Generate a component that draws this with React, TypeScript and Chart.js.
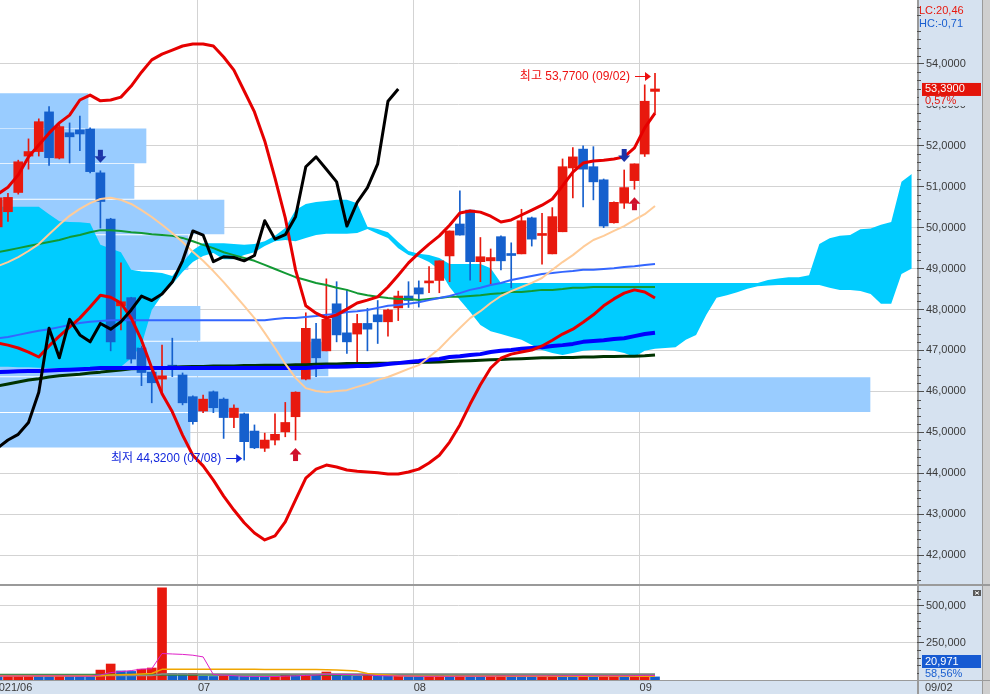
import React, { useEffect, useRef } from "react";
import { Chart, registerables } from "chart.js";

Chart.register(...registerables);

const FONT = '"Liberation Sans", "Noto Sans CJK KR", Arial, sans-serif';
const YEAR = "2021";

// ---------------- data ----------------
const dates = [
  "06/03","06/04","06/07","06/08","06/09","06/10","06/11","06/14","06/15","06/16",
  "06/17","06/18","06/21","06/22","06/23","06/24","06/25","06/28","06/29","06/30",
  "07/01","07/02","07/06","07/07","07/08","07/09","07/12","07/13","07/14","07/15",
  "07/16","07/19","07/20","07/21","07/22","07/23","07/26","07/27","07/28","07/29",
  "07/30","08/02","08/03","08/04","08/05","08/06","08/09","08/10","08/11","08/12",
  "08/13","08/16","08/17","08/18","08/19","08/20","08/23","08/24","08/25","08/26",
  "08/27","08/30","08/31","09/01","09/02",
];

const openP = [
  50.02, 50.39, 50.86, 51.75, 51.86, 52.83, 51.70, 52.32, 52.39, 52.41,
  51.34, 50.21, 48.09, 48.29, 47.06, 46.47, 46.30, 46.64, 46.40, 45.87,
  45.52, 45.99, 45.81, 45.36, 45.45, 45.03, 44.61, 44.81, 45.01, 45.38,
  46.30, 47.28, 46.99, 48.14, 47.43, 47.40, 47.66, 47.87, 47.70, 48.04,
  48.33, 48.53, 48.65, 48.71, 49.31, 50.09, 50.43, 49.17, 49.19, 49.78,
  49.35, 49.36, 50.24, 49.81, 49.36, 49.90, 51.46, 51.92, 51.49, 51.17,
  50.12, 50.60, 51.15, 51.80, 53.33,
];
const highP = [
  50.80, 50.84, 51.65, 52.17, 52.66, 52.96, 52.51, 52.56, 52.73, 52.44,
  51.39, 50.23, 49.14, 48.30, 47.11, 46.50, 47.13, 47.30, 46.45, 45.89,
  45.91, 46.01, 45.84, 45.67, 45.47, 45.18, 44.98, 45.45, 45.73, 45.99,
  47.92, 47.66, 48.75, 48.68, 48.48, 47.88, 48.03, 48.22, 48.01, 48.45,
  48.68, 48.70, 49.05, 49.19, 49.92, 50.90, 50.43, 49.76, 49.48, 49.80,
  49.63, 50.45, 50.26, 50.35, 50.49, 51.68, 51.96, 52.00, 51.98, 51.19,
  50.63, 51.41, 51.56, 53.49, 53.77,
];
const lowP = [
  49.94, 50.15, 50.82, 51.43, 51.75, 51.52, 51.68, 51.58, 51.88, 51.34,
  49.99, 46.99, 47.50, 46.69, 46.14, 45.72, 45.96, 46.36, 45.67, 45.20,
  45.48, 45.48, 44.85, 45.11, 44.32, 44.60, 44.53, 44.69, 44.89, 44.81,
  46.28, 46.36, 46.99, 47.21, 46.93, 46.70, 46.99, 47.17, 47.35, 47.73,
  48.05, 48.06, 48.41, 48.41, 48.68, 49.82, 48.72, 48.68, 48.60, 48.97,
  48.53, 49.36, 49.55, 49.11, 49.36, 49.90, 50.73, 50.51, 50.68, 50.00,
  50.11, 50.47, 50.94, 51.74, 52.80,
];
const closeP = [
  50.73, 50.74, 51.61, 51.86, 52.59, 51.71, 52.47, 52.22, 52.29, 51.37,
  50.64, 47.21, 48.19, 46.79, 46.46, 46.21, 46.38, 46.54, 45.72, 45.26,
  45.81, 45.60, 45.36, 45.59, 44.77, 44.62, 44.81, 44.95, 45.24, 45.98,
  47.54, 46.82, 47.76, 47.38, 47.21, 47.66, 47.52, 47.70, 47.99, 48.33,
  48.22, 48.38, 48.67, 49.19, 49.92, 49.82, 49.17, 49.29, 49.27, 49.19,
  49.32, 50.17, 49.72, 49.83, 50.27, 51.49, 51.73, 51.43, 51.12, 50.04,
  50.62, 50.98, 51.56, 53.09, 53.39,
];

const bbUpper = [
  50.82, 50.99, 51.29, 51.73, 52.02, 52.31, 52.56, 52.75, 53.12, 53.24,
  53.10, 53.12, 53.19, 53.46, 53.80, 54.10, 54.24, 54.34, 54.44, 54.49,
  54.49, 54.44, 54.17, 53.85, 53.34, 52.83, 52.12, 51.21, 50.24, 48.97,
  48.09, 47.91, 47.79, 47.87, 48.01, 48.16, 48.23, 48.31, 48.55, 48.84,
  49.14, 49.38, 49.60, 49.80, 50.06, 50.36, 50.41, 50.38, 50.28, 50.14,
  50.19, 50.31, 50.43, 50.55, 50.70, 51.02, 51.36, 51.58, 51.63, 51.65,
  51.68, 51.73, 51.95, 52.44, 52.80,
];
const bbLower = [
  47.18, 47.13, 47.06, 46.96, 46.84, 47.11, 47.35, 47.57, 47.79, 48.06,
  48.35, 48.30, 48.16, 47.79, 47.25, 46.57, 45.94, 45.50, 44.93, 44.44,
  44.18, 43.83, 43.44, 43.10, 42.79, 42.54, 42.37, 42.47, 42.81, 43.35,
  43.88, 44.10, 44.20, 44.15, 44.08, 44.05, 44.03, 44.01, 43.98, 43.98,
  44.03, 44.10, 44.25, 44.44, 44.76, 45.18, 45.69, 46.16, 46.57, 46.81,
  46.91, 46.96, 47.01, 47.11, 47.25, 47.40, 47.52, 47.69, 47.87, 48.09,
  48.26, 48.40, 48.48, 48.43, 48.28,
];
const bbMid = [
  49.06, 49.16, 49.28, 49.43, 49.60, 49.84, 50.07, 50.29, 50.46, 50.60,
  50.70, 50.73, 50.68, 50.58, 50.43, 50.26, 50.07, 49.87, 49.65, 49.41,
  49.19, 48.94, 48.67, 48.38, 48.09, 47.79, 47.43, 47.06, 46.67, 46.33,
  46.08, 46.01, 45.98, 46.01, 46.03, 46.11, 46.18, 46.28, 46.35, 46.45,
  46.55, 46.64, 46.84, 47.04, 47.30, 47.55, 47.79, 47.96, 48.16, 48.33,
  48.45, 48.55, 48.65, 48.77, 48.97, 49.16, 49.33, 49.53, 49.70, 49.80,
  49.92, 50.04, 50.19, 50.33, 50.53,
];
const maGreen = [
  49.40, 49.45, 49.50, 49.55, 49.60, 49.65, 49.70, 49.77, 49.82, 49.89,
  49.94, 49.94, 49.92, 49.89, 49.87, 49.84, 49.82, 49.80, 49.75, 49.67,
  49.58, 49.50, 49.40, 49.33, 49.26, 49.19, 49.09, 48.99, 48.89, 48.79,
  48.72, 48.65, 48.60, 48.53, 48.48, 48.40, 48.35, 48.31, 48.28, 48.26,
  48.26, 48.23, 48.26, 48.28, 48.31, 48.31, 48.33, 48.35, 48.38, 48.40,
  48.43, 48.43, 48.45, 48.48, 48.48, 48.50, 48.53, 48.53, 48.55, 48.55,
  48.55, 48.55, 48.55, 48.55, 48.55,
];
const maBlue = [
  47.30, 47.33, 47.38, 47.43, 47.48, 47.52, 47.57, 47.62, 47.67, 47.70,
  47.72, 47.74, 47.74, 47.74, 47.74, 47.74, 47.74, 47.74, 47.74, 47.74,
  47.74, 47.74, 47.74, 47.74, 47.74, 47.74, 47.74, 47.77, 47.79, 47.79,
  47.82, 47.84, 47.87, 47.89, 47.94, 47.96, 47.99, 48.04, 48.09, 48.11,
  48.14, 48.18, 48.23, 48.28, 48.33, 48.40, 48.48, 48.53, 48.60, 48.65,
  48.72, 48.77, 48.82, 48.87, 48.89, 48.92, 48.94, 48.97, 48.97, 48.99,
  49.01, 49.04, 49.06, 49.09, 49.11,
];
const maDarkBlue = [
  46.47, 46.48, 46.49, 46.50, 46.50, 46.51, 46.52, 46.53, 46.54, 46.55,
  46.57, 46.57, 46.57, 46.57, 46.57, 46.57, 46.57, 46.57, 46.57, 46.57,
  46.57, 46.57, 46.57, 46.57, 46.57, 46.57, 46.57, 46.57, 46.57, 46.57,
  46.57, 46.59, 46.60, 46.60, 46.61, 46.62, 46.62, 46.64, 46.67, 46.69,
  46.72, 46.74, 46.77, 46.79, 46.84, 46.86, 46.89, 46.91, 46.96, 46.99,
  47.01, 47.04, 47.06, 47.08, 47.11, 47.13, 47.16, 47.21, 47.23, 47.25,
  47.28, 47.30, 47.35, 47.40, 47.43,
];
const maDarkGreen = [
  46.13, 46.18, 46.23, 46.28, 46.31, 46.35, 46.38, 46.40, 46.42, 46.45,
  46.47, 46.50, 46.52, 46.55, 46.56, 46.57, 46.58, 46.59, 46.60, 46.61,
  46.61, 46.62, 46.62, 46.62, 46.63, 46.63, 46.64, 46.64, 46.64, 46.65,
  46.65, 46.66, 46.67, 46.67, 46.68, 46.68, 46.68, 46.69, 46.69, 46.70,
  46.70, 46.71, 46.71, 46.72, 46.73, 46.74, 46.75, 46.76, 46.77, 46.78,
  46.79, 46.80, 46.81, 46.82, 46.82, 46.83, 46.83, 46.84, 46.84, 46.85,
  46.85, 46.86, 46.86, 46.87, 46.89,
];
// lagging span (close shifted back 25 sessions)
const chikou = [
  44.62, 44.81, 44.95, 45.24, 45.98, 47.54, 46.82, 47.76, 47.38, 47.21,
  47.66, 47.52, 47.70, 47.99, 48.33, 48.22, 48.38, 48.67, 49.19, 49.92,
  49.82, 49.17, 49.29, 49.27, 49.19, 49.32, 50.17, 49.72, 49.83, 50.27,
  51.49, 51.73, 51.43, 51.12, 50.04, 50.62, 50.98, 51.56, 53.09, 53.39,
];
// ichimoku leading spans (run 25 sessions ahead)
const spanA = [
  50.51, 50.51, 50.51, 50.51, 50.51, 50.33, 50.16, 50.14, 50.13, 50.11,
  49.58, 49.49, 49.40, 48.97, 48.93, 48.92, 48.89, 48.82, 49.14, 49.45,
  49.62, 49.62, 49.62, 49.60, 49.58, 49.60, 49.67, 49.80, 49.99, 50.43,
  50.58, 50.63, 50.65, 50.68, 50.68, 50.60, 50.02, 49.97, 49.89, 49.65,
  49.43, 49.36, 49.33, 49.26, 49.11, 49.11, 49.11, 49.11, 49.01, 48.65,
  48.65, 48.65, 48.65, 48.65, 48.65, 48.65, 48.65, 48.65, 48.65, 48.65,
  48.65, 48.65, 48.65, 48.65, 48.65, 48.65, 48.65, 48.65, 48.65, 48.65,
  48.65, 48.65, 48.65, 48.65, 48.65, 48.72, 48.76, 48.79, 48.79, 48.84,
  49.60, 49.74, 49.80, 49.82, 49.96, 49.98, 50.07, 50.14, 51.12, 51.31,
];
const spanB = [
  46.60, 46.60, 46.59, 46.59, 46.58, 46.57, 46.57, 46.57, 46.57, 46.57,
  46.57, 46.57, 46.60, 46.81, 47.13, 47.99, 48.35, 48.62, 48.92, 49.16,
  49.31, 49.38, 49.23, 49.23, 49.33, 49.40, 49.55, 49.67, 49.70, 49.67,
  49.75, 49.82, 49.85, 49.85, 49.85, 49.87, 49.97, 49.85, 49.75, 49.50,
  49.33, 49.28, 49.16, 48.97, 48.55, 48.23, 47.94, 47.62, 47.47, 47.40,
  47.33, 47.26, 47.13, 47.01, 46.94, 46.89, 46.94, 46.99, 47.01, 47.01,
  46.99, 46.94, 46.84, 46.99, 47.04, 47.06, 47.08, 47.26, 47.38, 47.87,
  48.29, 48.35, 48.42, 48.51, 48.57, 48.59, 48.60, 48.60, 48.60, 48.60,
  48.60, 48.53, 48.48, 48.48, 48.45, 48.38, 48.14, 48.14, 48.87, 49.00,
];
// volume-by-price profile
const profileMid = [45.05, 45.92, 46.79, 47.66, 48.52, 49.39, 50.26, 51.13, 52.00, 52.86];
const profileVol = [950000, 4350000, 1640000, 1000000, 700000, 940000, 1120000, 670000, 730000, 440000];

const volume = [
  25000, 27000, 29000, 31000, 26000, 24000, 28000, 27000, 25000, 24000,
  67000, 108000, 61000, 58000, 73000, 81000, 622000, 45000, 44000, 45000,
  25000, 24000, 26000, 25000, 24000, 23000, 22000, 24000, 40000, 30000,
  40000, 32000, 54000, 34000, 28000, 25000, 33000, 28000, 25000, 27000,
  24000, 23000, 26000, 28000, 25000, 28000, 26000, 24000, 27000, 32000,
  29000, 26000, 24000, 27000, 33000, 32000, 27000, 30000, 21000, 29000,
  33000, 29000, 33000, 35811, 20971,
];
const volMa5 = [
  27000, 27000, 27000, 27000, 27600, 27400, 27600, 27200, 26000, 25600,
  34200, 50200, 57000, 63600, 73400, 76200, 179000, 175800, 173000, 167400,
  156200, 36600, 32800, 29000, 24800, 24400, 24000, 23600, 26600, 27800,
  31200, 33200, 39200, 38000, 37600, 34600, 34800, 29600, 27800, 27600,
  27400, 25400, 25000, 25600, 25200, 26000, 26600, 26200, 26000, 27400,
  27600, 27600, 27600, 27600, 27800, 28400, 28600, 29800, 28600, 27800,
  28000, 28400, 29000, 32000, 30400,
];
const volMa20 = [
  27000, 27000, 27000, 27000, 27000, 27000, 27000, 27000, 27000, 27000,
  29000, 33000, 36000, 38000, 41000, 44000, 72000, 73000, 73000, 73000,
  72000, 72000, 72000, 72000, 72000, 72000, 71000, 71000, 71000, 71000,
  71000, 71000, 70000, 68000, 65000, 60000, 44000, 38000, 33000, 29000,
  27000, 26000, 26000, 26000, 26000, 26000, 26000, 26000, 26000, 26000,
  26000, 26000, 26000, 26000, 26000, 26000, 26000, 26000, 26000, 26000,
  26000, 26000, 26000, 26000, 26000,
];
const volMa60 = [
  31000, 31000, 31000, 31000, 31000, 31000, 31000, 31000, 31000, 31000,
  31000, 31000, 31000, 31000, 31000, 31000, 41000, 41000, 41000, 41000,
  41000, 41000, 41000, 41000, 41000, 41000, 41000, 41000, 41000, 41000,
  41000, 41000, 41000, 41000, 41000, 41000, 41000, 41000, 41000, 41000,
  41000, 41000, 41000, 41000, 41000, 41000, 41000, 41000, 41000, 41000,
  41000, 41000, 41000, 41000, 41000, 41000, 41000, 41000, 41000, 41000,
  41000, 41000, 41000, 41000, 41000,
];
const volMa120 = [
  36000, 36000, 36000, 36000, 36000, 36000, 36000, 36000, 36000, 36000,
  36000, 36000, 36000, 36000, 36000, 36000, 36000, 36000, 36000, 36000,
  36000, 36000, 36000, 36000, 36000, 36000, 36000, 36000, 36000, 36000,
  36000, 36000, 36000, 36000, 36000, 36000, 36000, 36000, 36000, 36000,
  36000, 36000, 36000, 36000, 36000, 36000, 36000, 36000, 36000, 36000,
  36000, 36000, 36000, 36000, 36000, 36000, 36000, 36000, 36000, 36000,
  36000, 36000, 36000, 36000, 36000,
];

const priceTicks = [42, 43, 44, 45, 46, 47, 48, 49, 50, 51, 52, 53, 54];
const volTicks = [250000, 500000];
const sellSignals = [10, 61];
const buySignals = [29, 62];
const lcText = "LC:20,46";
const hcText = "HC:-0,71";

// ---------------- layout / style ----------------
const X_MIN = 0.224;
const X_MAX = 89.51;
const Y_MIN = 41.268;
const Y_MAX = 55.564;
const VOL_MAX = 635135;
const PROFILE_MAX = 4585000;
const AXIS_W = 73;
const COL_END = 982;

const GRID = "#d3d3d3";
const TICK = "#505050";
const LABEL = "#3a3a3a";
const AXIS_BG = "#d6e2f0";
const UP = "#e8190e";
const DOWN = "#1560cd";
const CLOUD = "#00ccff";
const PROFILE = "#99ccff";

const fmtPrice = (v: number) => v.toFixed(4).replace(".", ",");
const fmtPct = (v: number) => v.toFixed(2).replace(".", ",") + "%";
const fmtVol = (v: number) =>
  Math.round(v).toString().replace(/\B(?=(\d{3})+(?!\d))/g, ",");

const pts = (arr: number[]) => arr.map((v, i) => ({ x: i, y: v }));

const monthTickIdx: number[] = [];
const monthTickLabel: string[] = [];
dates.forEach((d, i) => {
  const m = d.slice(0, 2);
  if (i === 0) {
    monthTickIdx.push(i - 0.5);
    monthTickLabel.push(`${YEAR}/${m}`);
  } else if (m !== dates[i - 1].slice(0, 2)) {
    monthTickIdx.push(i - 0.5);
    monthTickLabel.push(m);
  }
});

function lineDs(data: number[], color: string, width: number, order: number): any {
  return {
    type: "line",
    data: pts(data),
    borderColor: color,
    borderWidth: width,
    pointRadius: 0,
    fill: false,
    tension: 0,
    order,
    xAxisID: "x",
    yAxisID: "y",
    borderJoinStyle: "round",
  };
}

function xScale(showLabels: boolean): any {
  return {
    type: "linear",
    position: "bottom",
    min: X_MIN,
    max: X_MAX,
    bounds: "data",
    offset: false,
    afterBuildTicks: (s: any) => {
      s.ticks = monthTickIdx.map((v) => ({ value: v }));
    },
    grid: { color: GRID, lineWidth: 1, drawTicks: false, drawOnChartArea: true, offset: false },
    border: { display: false },
    ticks: showLabels
      ? {
          display: true,
          autoSkip: false,
          maxRotation: 0,
          minRotation: 0,
          align: "start",
          padding: 1,
          color: LABEL,
          font: { family: FONT, size: 11 },
          callback: (_v: any, idx: number) => monthTickLabel[idx],
        }
      : { display: false },
    afterFit: (s: any) => {
      s.height = showLabels ? 14 : 0;
      s.paddingLeft = 0;
      s.paddingRight = 0;
    },
  };
}

function yScale(min: number, max: number, ticks: number[], fmt: (v: number) => string): any {
  return {
    type: "linear",
    position: "right",
    min,
    max,
    bounds: "data",
    offset: false,
    afterBuildTicks: (s: any) => {
      s.ticks = ticks.map((v) => ({ value: v }));
    },
    grid: { color: GRID, tickColor: TICK, tickLength: 7, lineWidth: 1, offset: false },
    border: { display: false },
    ticks: {
      autoSkip: false,
      color: LABEL,
      padding: 2,
      font: { family: FONT, size: 11 },
      callback: (v: any) => fmt(Number(v)),
    },
    afterFit: (s: any) => {
      s.width = AXIS_W;
      s.paddingTop = 0;
      s.paddingBottom = 0;
    },
  };
}

function downArrow(ctx: any, x: number, tipY: number, color: string) {
  ctx.fillStyle = color;
  ctx.fillRect(x - 2.5, tipY - 13, 5, 7);
  ctx.beginPath();
  ctx.moveTo(x - 6, tipY - 6.5);
  ctx.lineTo(x + 6, tipY - 6.5);
  ctx.lineTo(x, tipY);
  ctx.closePath();
  ctx.fill();
}
function upArrow(ctx: any, x: number, tipY: number, color: string) {
  ctx.fillStyle = color;
  ctx.beginPath();
  ctx.moveTo(x - 6, tipY + 6.5);
  ctx.lineTo(x + 6, tipY + 6.5);
  ctx.lineTo(x, tipY);
  ctx.closePath();
  ctx.fill();
  ctx.fillRect(x - 2.5, tipY + 6, 5, 7);
}
function labelArrow(ctx: any, text: string, tipX: number, y: number, color: string) {
  const ry = Math.round(y);
  ctx.strokeStyle = color;
  ctx.fillStyle = color;
  ctx.lineWidth = 1;
  ctx.beginPath();
  ctx.moveTo(tipX - 16, ry + 0.5);
  ctx.lineTo(tipX - 4, ry + 0.5);
  ctx.stroke();
  ctx.beginPath();
  ctx.moveTo(tipX - 6, ry - 4);
  ctx.lineTo(tipX, ry + 0.5);
  ctx.lineTo(tipX - 6, ry + 5);
  ctx.closePath();
  ctx.fill();
  ctx.font = `12px ${FONT}`;
  ctx.textAlign = "right";
  ctx.textBaseline = "middle";
  ctx.fillText(text, tipX - 21, ry + 1);
}

const mainDeco = {
  id: "mainDeco",
  beforeDraw(chart: any) {
    const { ctx, chartArea: ca, width, height } = chart;
    ctx.save();
    ctx.fillStyle = "#ffffff";
    ctx.fillRect(0, 0, width, height);
    ctx.fillStyle = AXIS_BG;
    ctx.fillRect(ca.right, 0, COL_END - ca.right, height);
    ctx.fillStyle = "#cfcfcf";
    ctx.fillRect(COL_END, 0, width - COL_END, height);
    ctx.fillStyle = "#9a9a9a";
    ctx.fillRect(COL_END, 0, 1, height);
    ctx.fillRect(ca.right, 0, 2, height);
    ctx.restore();
  },
  afterDatasetsDraw(chart: any) {
    const { ctx } = chart;
    const xs = chart.scales.x;
    const ys = chart.scales.y;
    ctx.save();
    sellSignals.forEach((i) => {
      downArrow(ctx, xs.getPixelForValue(i), ys.getPixelForValue(highP[i]) - 8, "#1c34a8");
    });
    buySignals.forEach((i) => {
      upArrow(ctx, xs.getPixelForValue(i), ys.getPixelForValue(lowP[i]) + 8, "#d0102c");
    });
    let hi = 0;
    let lo = 0;
    highP.forEach((v, i) => {
      if (v > highP[hi]) hi = i;
    });
    lowP.forEach((v, i) => {
      if (v < lowP[lo]) lo = i;
    });
    labelArrow(
      ctx,
      `최고 ${fmtPrice(highP[hi])} (${dates[hi]})`,
      xs.getPixelForValue(hi) - 4,
      ys.getPixelForValue(highP[hi]) + 3,
      "#ee1111"
    );
    labelArrow(
      ctx,
      `최저 ${fmtPrice(lowP[lo])} (${dates[lo]})`,
      xs.getPixelForValue(lo) - 2,
      ys.getPixelForValue(lowP[lo]) - 2,
      "#1428dc"
    );
    ctx.restore();
  },
  afterDraw(chart: any) {
    const { ctx, chartArea: ca, width } = chart;
    const ys = chart.scales.y;
    ctx.save();
    ctx.strokeStyle = TICK;
    ctx.lineWidth = 1;
    for (let k = Math.ceil(ys.min * 5); k <= Math.floor(ys.max * 5); k++) {
      if (k % 5 === 0) continue;
      const y = Math.round(ys.getPixelForValue(k / 5)) + 0.5;
      ctx.beginPath();
      ctx.moveTo(ca.right, y);
      ctx.lineTo(ca.right + 4, y);
      ctx.stroke();
    }
    ctx.fillStyle = "#9a9a9a";
    ctx.fillRect(0, ca.bottom - 1, width, 1);
    ctx.font = `11px ${FONT}`;
    ctx.textAlign = "left";
    ctx.textBaseline = "middle";
    ctx.fillStyle = "#e8190e";
    ctx.fillText(lcText, ca.right + 2, 10.5);
    ctx.fillStyle = "#1a5fd0";
    ctx.fillText(hcText, ca.right + 2, 24);
    const last = closeP.length - 1;
    const yv = ys.getPixelForValue(closeP[last]);
    const pct = (closeP[last] / closeP[last - 1] - 1) * 100;
    ctx.fillStyle = AXIS_BG;
    ctx.fillRect(ca.right + 2, yv + 6.5, COL_END - ca.right - 2, 10.5);
    ctx.fillStyle = "#e3140a";
    ctx.fillRect(ca.right + 5, yv - 6, 59, 13);
    ctx.fillStyle = "#ffffff";
    ctx.fillText(fmtPrice(closeP[last]), ca.right + 8, yv + 0.5);
    ctx.fillStyle = "#e3140a";
    ctx.fillText(fmtPct(pct), ca.right + 8, yv + 12.5);
    ctx.restore();
  },
};

const volDeco = {
  id: "volDeco",
  beforeDraw(chart: any) {
    const { ctx, chartArea: ca, width, height } = chart;
    ctx.save();
    ctx.fillStyle = "#ffffff";
    ctx.fillRect(0, 0, width, height);
    ctx.fillStyle = AXIS_BG;
    ctx.fillRect(ca.right, 0, COL_END - ca.right, height);
    ctx.fillRect(0, ca.bottom, COL_END, height - ca.bottom);
    ctx.fillStyle = "#cfcfcf";
    ctx.fillRect(COL_END, 0, width - COL_END, height);
    ctx.fillStyle = "#9a9a9a";
    ctx.fillRect(COL_END, 0, 1, height);
    ctx.fillRect(ca.right, 0, 2, height);
    ctx.fillRect(0, 0, width, 1);
    ctx.fillRect(0, ca.bottom, width, 1);
    ctx.restore();
  },
  afterDraw(chart: any) {
    const { ctx, chartArea: ca } = chart;
    const ys = chart.scales.y;
    ctx.save();
    ctx.strokeStyle = TICK;
    ctx.lineWidth = 1;
    for (let k = 1; k * 50000 <= ys.max; k++) {
      if (k % 5 === 0) continue;
      const y = Math.round(ys.getPixelForValue(k * 50000)) + 0.5;
      ctx.beginPath();
      ctx.moveTo(ca.right, y);
      ctx.lineTo(ca.right + 4, y);
      ctx.stroke();
    }
    const last = volume.length - 1;
    const yv = Math.min(ys.getPixelForValue(volume[last]), ca.bottom - 19);
    const pct = (volume[last] / volume[last - 1]) * 100;
    ctx.font = `11px ${FONT}`;
    ctx.textAlign = "left";
    ctx.textBaseline = "middle";
    ctx.fillStyle = AXIS_BG;
    ctx.fillRect(ca.right + 2, yv + 6.5, COL_END - ca.right - 2, 11);
    ctx.fillStyle = "#165ad2";
    ctx.fillRect(ca.right + 5, yv - 6, 59, 13);
    ctx.fillStyle = "#ffffff";
    ctx.fillText(fmtVol(volume[last]), ca.right + 8, yv + 0.5);
    ctx.fillStyle = "#1a5fd0";
    ctx.fillText(fmtPct(pct), ca.right + 8, yv + 12.5);
    ctx.fillStyle = LABEL;
    ctx.fillText(dates[last], ca.right + 8, ca.bottom + 8);
    ctx.fillStyle = "#5a5a5a";
    ctx.fillRect(973, 5, 8, 6);
    ctx.strokeStyle = "#ffffff";
    ctx.beginPath();
    ctx.moveTo(975, 6.5);
    ctx.lineTo(979, 9.5);
    ctx.moveTo(979, 6.5);
    ctx.lineTo(975, 9.5);
    ctx.stroke();
    ctx.restore();
  },
};

const baseOptions = {
  responsive: false,
  maintainAspectRatio: false,
  animation: false,
  devicePixelRatio: 1,
  events: [],
  plugins: { legend: { display: false }, tooltip: { enabled: false } },
};

function mainConfig(): any {
  const candleColors = closeP.map((c, i) => (c >= openP[i] ? UP : DOWN));
  return {
    type: "bar",
    data: {
      datasets: [
        {
          type: "bar",
          indexAxis: "y",
          data: profileMid.map((p, k) => ({ y: p, x: [0, profileVol[k]] })),
          xAxisID: "xp",
          yAxisID: "y",
          backgroundColor: PROFILE,
          borderWidth: 0,
          barThickness: 34,
          grouped: false,
          order: 100,
        },
        {
          type: "line",
          data: pts(spanA),
          borderWidth: 0,
          borderColor: "rgba(0,0,0,0)",
          pointRadius: 0,
          fill: false,
          order: 91,
          xAxisID: "x",
          yAxisID: "y",
        },
        {
          type: "line",
          data: pts(spanB),
          borderWidth: 0,
          borderColor: "rgba(0,0,0,0)",
          pointRadius: 0,
          fill: "-1",
          backgroundColor: CLOUD,
          order: 90,
          xAxisID: "x",
          yAxisID: "y",
        },
        {
          type: "bar",
          data: openP.map((_, i) => ({ x: i, y: [lowP[i], highP[i]] })),
          backgroundColor: candleColors,
          borderWidth: 0,
          barThickness: 1,
          grouped: false,
          order: 51,
          xAxisID: "x",
          yAxisID: "y",
        },
        {
          type: "bar",
          data: openP.map((o, i) => ({ x: i, y: [o, closeP[i]] })),
          backgroundColor: candleColors,
          borderWidth: 0,
          barThickness: 9,
          minBarLength: 2,
          grouped: false,
          order: 50,
          xAxisID: "x",
          yAxisID: "y",
        },
        lineDs(maDarkGreen, "#003300", 3, 30),
        lineDs(maDarkBlue, "#0000ff", 4, 29),
        lineDs(maGreen, "#119933", 2, 28),
        lineDs(maBlue, "#3366ff", 2, 27),
        lineDs(bbMid, "#ffcc99", 2, 26),
        lineDs(bbLower, "#e60000", 3, 25),
        lineDs(bbUpper, "#e60000", 3, 24),
        lineDs(chikou, "#000000", 3, 20),
      ],
    },
    options: {
      ...baseOptions,
      layout: { padding: 0, autoPadding: false },
      scales: {
        x: xScale(false),
        xp: { type: "linear", min: 0, max: PROFILE_MAX, display: false, bounds: "data", offset: false },
        y: yScale(Y_MIN, Y_MAX, priceTicks, fmtPrice),
      },
    },
    plugins: [mainDeco],
  };
}

function volConfig(): any {
  const volColors = volume.map((v, i) => (i > 0 && v >= volume[i - 1] ? UP : DOWN));
  return {
    type: "bar",
    data: {
      datasets: [
        {
          type: "bar",
          data: volume.map((v, i) => ({ x: i, y: v })),
          backgroundColor: volColors,
          borderWidth: 0,
          barThickness: 9,
          grouped: false,
          order: 10,
          xAxisID: "x",
          yAxisID: "y",
        },
        lineDs(volMa120, "#2f8a3a", 2, 4),
        lineDs(volMa60, "#8c8c8c", 1.5, 3),
        lineDs(volMa20, "#f0a500", 1.5, 2),
        lineDs(volMa5, "#e020c8", 1, 1),
      ],
    },
    options: {
      ...baseOptions,
      layout: { padding: { top: 1, left: 0, right: 0, bottom: 0 }, autoPadding: false },
      scales: {
        x: xScale(true),
        y: yScale(0, VOL_MAX, volTicks, fmtVol),
      },
    },
    plugins: [volDeco],
  };
}

export default function App() {
  const mainRef = useRef<HTMLCanvasElement>(null);
  const volRef = useRef<HTMLCanvasElement>(null);
  useEffect(() => {
    const c1 = new Chart(mainRef.current as HTMLCanvasElement, mainConfig());
    const c2 = new Chart(volRef.current as HTMLCanvasElement, volConfig());
    return () => {
      c1.destroy();
      c2.destroy();
    };
  }, []);
  return (
    <div style={{ position: "fixed", left: 0, top: 0, width: 990, height: 694, background: "#fff" }}>
      <canvas
        ref={mainRef}
        width={990}
        height={585}
        style={{ position: "absolute", left: 0, top: 0, width: 990, height: 585 }}
      />
      <canvas
        ref={volRef}
        width={990}
        height={109}
        style={{ position: "absolute", left: 0, top: 585, width: 990, height: 109 }}
      />
    </div>
  );
}
